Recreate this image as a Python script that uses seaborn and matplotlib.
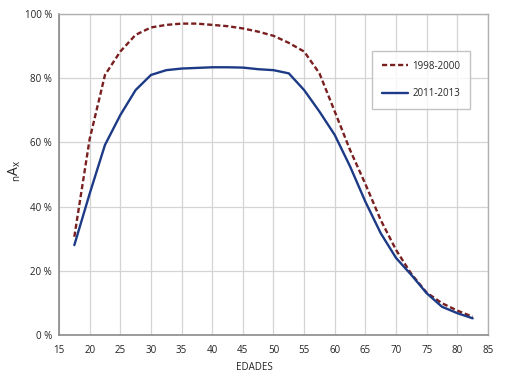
import numpy as np
import pandas as pd
import matplotlib
matplotlib.use('Agg')
import matplotlib.pyplot as plt
import seaborn as sns

# edades (centro de cada grupo) y valores
edades = [17.5, 20, 22.5, 25, 27.5, 30, 32.5, 35, 37.5, 40, 42.5, 45, 47.5, 50,
          52.5, 55, 57.5, 60, 62.5, 65, 67.5, 70, 72.5, 75, 77.5, 80, 82.5]
serie_1998 = [30.6, 61, 81, 88.3, 93.5, 95.8, 96.6, 97, 97, 96.6, 96.2, 95.5, 94.5, 93.2,
              91, 88.3, 81.5, 69.6, 57.6, 47, 35.8, 26.5, 19, 13.2, 9.9, 7.6, 5.7]
serie_2011 = [28, 44, 59.2, 68.5, 76.3, 81, 82.5, 83, 83.2, 83.4, 83.4, 83.3, 82.8, 82.5,
              81.5, 76.3, 69.6, 62.3, 52.5, 41.5, 31.7, 24, 18.7, 13, 8.8, 6.8, 5.2]
etiquetas = ['1998-2000', '2011-2013']

df = pd.DataFrame({
    'edad': edades * 2,
    'valor': serie_1998 + serie_2011,
    'periodo': [etiquetas[0]] * len(edades) + [etiquetas[1]] * len(edades),
})

sns.set_style('white')
plt.rcParams['font.family'] = ['Open Sans', 'DejaVu Sans']
plt.rcParams['mathtext.fontset'] = 'custom'
plt.rcParams['mathtext.rm'] = 'Open Sans'

fig = plt.figure(figsize=(5.06, 3.82), dpi=100)
ax = fig.add_axes([0.1166, 0.123, 0.8478, 0.8404])

sns.lineplot(data=df, x='edad', y='valor', hue='periodo', style='periodo',
             palette={etiquetas[0]: '#7a1f1f', etiquetas[1]: '#1c3a85'},
             dashes={etiquetas[0]: (2.2, 1.2), etiquetas[1]: ''},
             linewidth=1.7, ax=ax)

ax.set_xlim(15, 85)
ax.set_ylim(0, 100)
ax.set_xticks(range(15, 90, 5))
ax.set_yticks(range(0, 120, 20))
ax.set_yticklabels([f'{v} %' for v in range(0, 120, 20)])
ax.tick_params(axis='both', length=0, labelsize=7, colors='#222222')
ax.tick_params(axis='x', pad=7)
ax.tick_params(axis='y', pad=5)
ax.grid(True, color='#d4d4d4', linewidth=0.9)
for s in ['top', 'right']:
    ax.spines[s].set_color('#b0b0b0')
    ax.spines[s].set_linewidth(1.0)
for s in ['left', 'bottom']:
    ax.spines[s].set_color('#8a8a8a')
    ax.spines[s].set_linewidth(1.2)

ax.set_xlabel('EDADES', fontsize=7, color='#222222')
ax.xaxis.set_label_coords(0.455, -0.085)
ax.set_ylabel(r'$_{\mathrm{n}}\mathrm{A}_{\mathrm{x}}$', fontsize=10, color='#222222')
ax.yaxis.set_label_coords(-0.085, 0.51)

leg = ax.legend(loc='upper right', bbox_to_anchor=(0.958, 0.885), fontsize=7,
                frameon=True, fancybox=False, handlelength=2.7, borderpad=1.0,
                labelspacing=1.7, handletextpad=0.4, borderaxespad=0)
leg.get_frame().set_edgecolor('#b5b5b5')
leg.get_frame().set_linewidth(1.0)

plt.savefig('out.png', dpi=100)
